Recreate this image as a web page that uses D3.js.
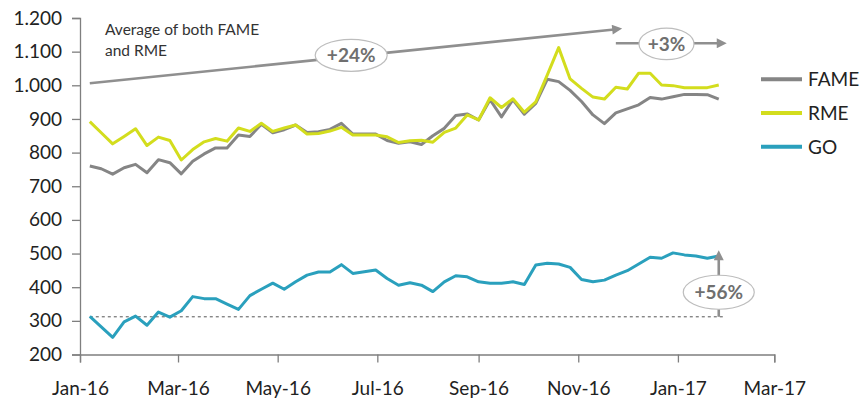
<!DOCTYPE html>
<html><head><meta charset="utf-8">
<script src="https://cdn.jsdelivr.net/npm/d3@7"></script>
<style>
body{margin:0;background:#fff;}
svg{display:block;font-family:Lato,"Open Sans",sans-serif;}
</style></head>
<body><svg id="c" width="867" height="401"></svg>
<script>
// ---- data ----
const firstWeek = "2016-01-07"; // weekly observations starting here
const fame = [760,752,736,755,765,740,779,770,737,774,796,814,814,852,848,884,859,868,882,860,862,869,887,855,855,855,836,828,832,824,850,872,910,915,897,957,906,957,914,946,1018,1011,985,952,912,886,918,930,942,964,959,966,973,973,972,959];
const rme  = [892,859,826,848,871,821,846,836,778,809,832,842,834,873,863,887,863,873,882,855,857,864,875,852,852,852,847,830,835,837,831,860,873,912,897,963,934,960,920,951,1030,1112,1019,991,965,959,994,989,1036,1036,1001,999,993,993,993,1001];
const go   = [313,282,251,297,314,287,326,311,330,372,366,366,350,334,375,394,412,394,416,436,445,445,467,441,446,451,426,406,413,406,387,416,434,431,416,412,412,416,408,466,471,469,459,423,416,421,436,449,469,489,486,502,496,493,486,493];
const seriesNames = ["FAME","RME","GO"];
const yTicks = [200,300,400,500,600,700,800,900,1000,1100,1200];
const xTicks = ["2016-01-01","2016-03-01","2016-05-01","2016-07-01","2016-09-01","2016-11-01","2017-01-01","2017-03-01"];
const xDomain = ["2016-01-01","2017-03-01"];
// annotations
const avgText = ["Average of both FAME","and RME"];
const trendLine = [["2016-01-07",1006],["2016-11-23",1166]];
const trendLabel = ["2016-06-15",1089,"+24%"];
const recentLine = [["2016-11-24",1125],["2017-01-26",1125]];
const recentLabel = ["2016-12-25",1123,"+3%"];
const goBase = [["2016-01-07",312],["2017-01-29",312]];
const goArrow = [["2017-01-26",312],["2017-01-26",486]];
const goLabel = ["2017-01-26",385,"+56%"];

// ---- setup ----
const P = d3.timeParse("%Y-%m-%d");
const start = P(firstWeek);
const dates = fame.map((_, i) => d3.timeDay.offset(start, 7 * i));
const colors = {FAME:"#858585", RME:"#d3dd1d", GO:"#2aa0bd"};
const values = {FAME:fame, RME:rme, GO:go};

const svg = d3.select("#c");
const x = d3.scaleTime().domain(xDomain.map(P)).range([80, 774.3]);
const y = d3.scaleLinear().domain([200, 1200]).range([354.5, 18]);
const fmt = d3.formatLocale({decimal:",", thousands:".", grouping:[3], currency:["","€"]}).format(",d");

// axes
const yAxis = svg.append("g").attr("transform","translate(80,0)")
  .call(d3.axisLeft(y).tickValues(yTicks).tickFormat(fmt).tickSize(8).tickPadding(10));
const xAxis = svg.append("g").attr("transform","translate(0,354.5)")
  .call(d3.axisBottom(x).tickValues(xTicks.map(P)).tickFormat(d3.timeFormat("%b-%y")).tickSize(8).tickPadding(19));
[yAxis, xAxis].forEach(a => {
  a.select(".domain").attr("stroke","#7f7f7f").attr("stroke-width",1.3);
  a.selectAll(".tick line").attr("stroke","#7f7f7f").attr("stroke-width",1.3);
  a.selectAll("text").attr("fill","#222").style("font-size","19px").style("font-family","Lato, sans-serif");
});

// dashed GO baseline
svg.append("line")
  .attr("x1", x(P(goBase[0][0]))).attr("y1", y(goBase[0][1]))
  .attr("x2", x(P(goBase[1][0]))).attr("y2", y(goBase[1][1]))
  .attr("stroke","#555").attr("stroke-width",1).attr("stroke-dasharray","3,3");

// lines
const line = d3.line().x((d,i) => x(dates[i])).y(d => y(d));
["FAME","GO","RME"].forEach(n => {
  svg.append("path").datum(values[n]).attr("d", line)
    .attr("fill","none").attr("stroke", colors[n]).attr("stroke-width",3)
    .attr("stroke-linejoin","round");
});

// arrow marker
const defs = svg.append("defs");
defs.append("marker").attr("id","arr").attr("viewBox","0 0 10 10")
  .attr("refX",2).attr("refY",5).attr("markerWidth",11).attr("markerHeight",10)
  .attr("markerUnits","userSpaceOnUse").attr("orient","auto")
  .append("path").attr("d","M0,0 L10,5 L0,10 Z").attr("fill","#8f8f8f");

function arrow(pts, w) {
  svg.append("line")
    .attr("x1", x(P(pts[0][0]))).attr("y1", y(pts[0][1]))
    .attr("x2", x(P(pts[1][0]))).attr("y2", y(pts[1][1]))
    .attr("stroke","#8f8f8f").attr("stroke-width", w).attr("marker-end","url(#arr)");
}
function bubble(lab, rx, ry) {
  const cx = x(P(lab[0])), cy = y(lab[1]);
  svg.append("ellipse").attr("cx",cx).attr("cy",cy).attr("rx",rx).attr("ry",ry)
    .attr("fill","#fff").attr("stroke","#bdbdbd").attr("stroke-width",1.2);
  svg.append("text").attr("x",cx).attr("y",cy).attr("dy","0.36em")
    .attr("text-anchor","middle").attr("fill","#6f6f6f")
    .style("font-size","19px").style("font-weight","bold").text(lab[2]);
}
arrow(trendLine, 2.6);
bubble(trendLabel, 36, 16);
arrow(recentLine, 2.6);
bubble(recentLabel, 27.5, 15.8);
arrow(goArrow, 2.6);
bubble(goLabel, 35.5, 17);

// annotation text
svg.append("text").attr("x",105).attr("y",35).attr("fill","#333")
  .style("font-size","15.5px")
  .selectAll("tspan").data(avgText).join("tspan")
  .attr("x",105).attr("dy",(d,i)=> i ? 21 : 0).text(d=>d);

// legend
const leg = svg.append("g");
seriesNames.forEach((n,i) => {
  const yy = 79.3 + i * 33.7;
  leg.append("line").attr("x1",761).attr("x2",802).attr("y1",yy).attr("y2",yy)
    .attr("stroke",colors[n]).attr("stroke-width",4);
  leg.append("text").attr("x",808).attr("y",yy).attr("dy","0.36em")
    .attr("fill","#222").style("font-size","19px").text(n);
});
</script></body></html>
